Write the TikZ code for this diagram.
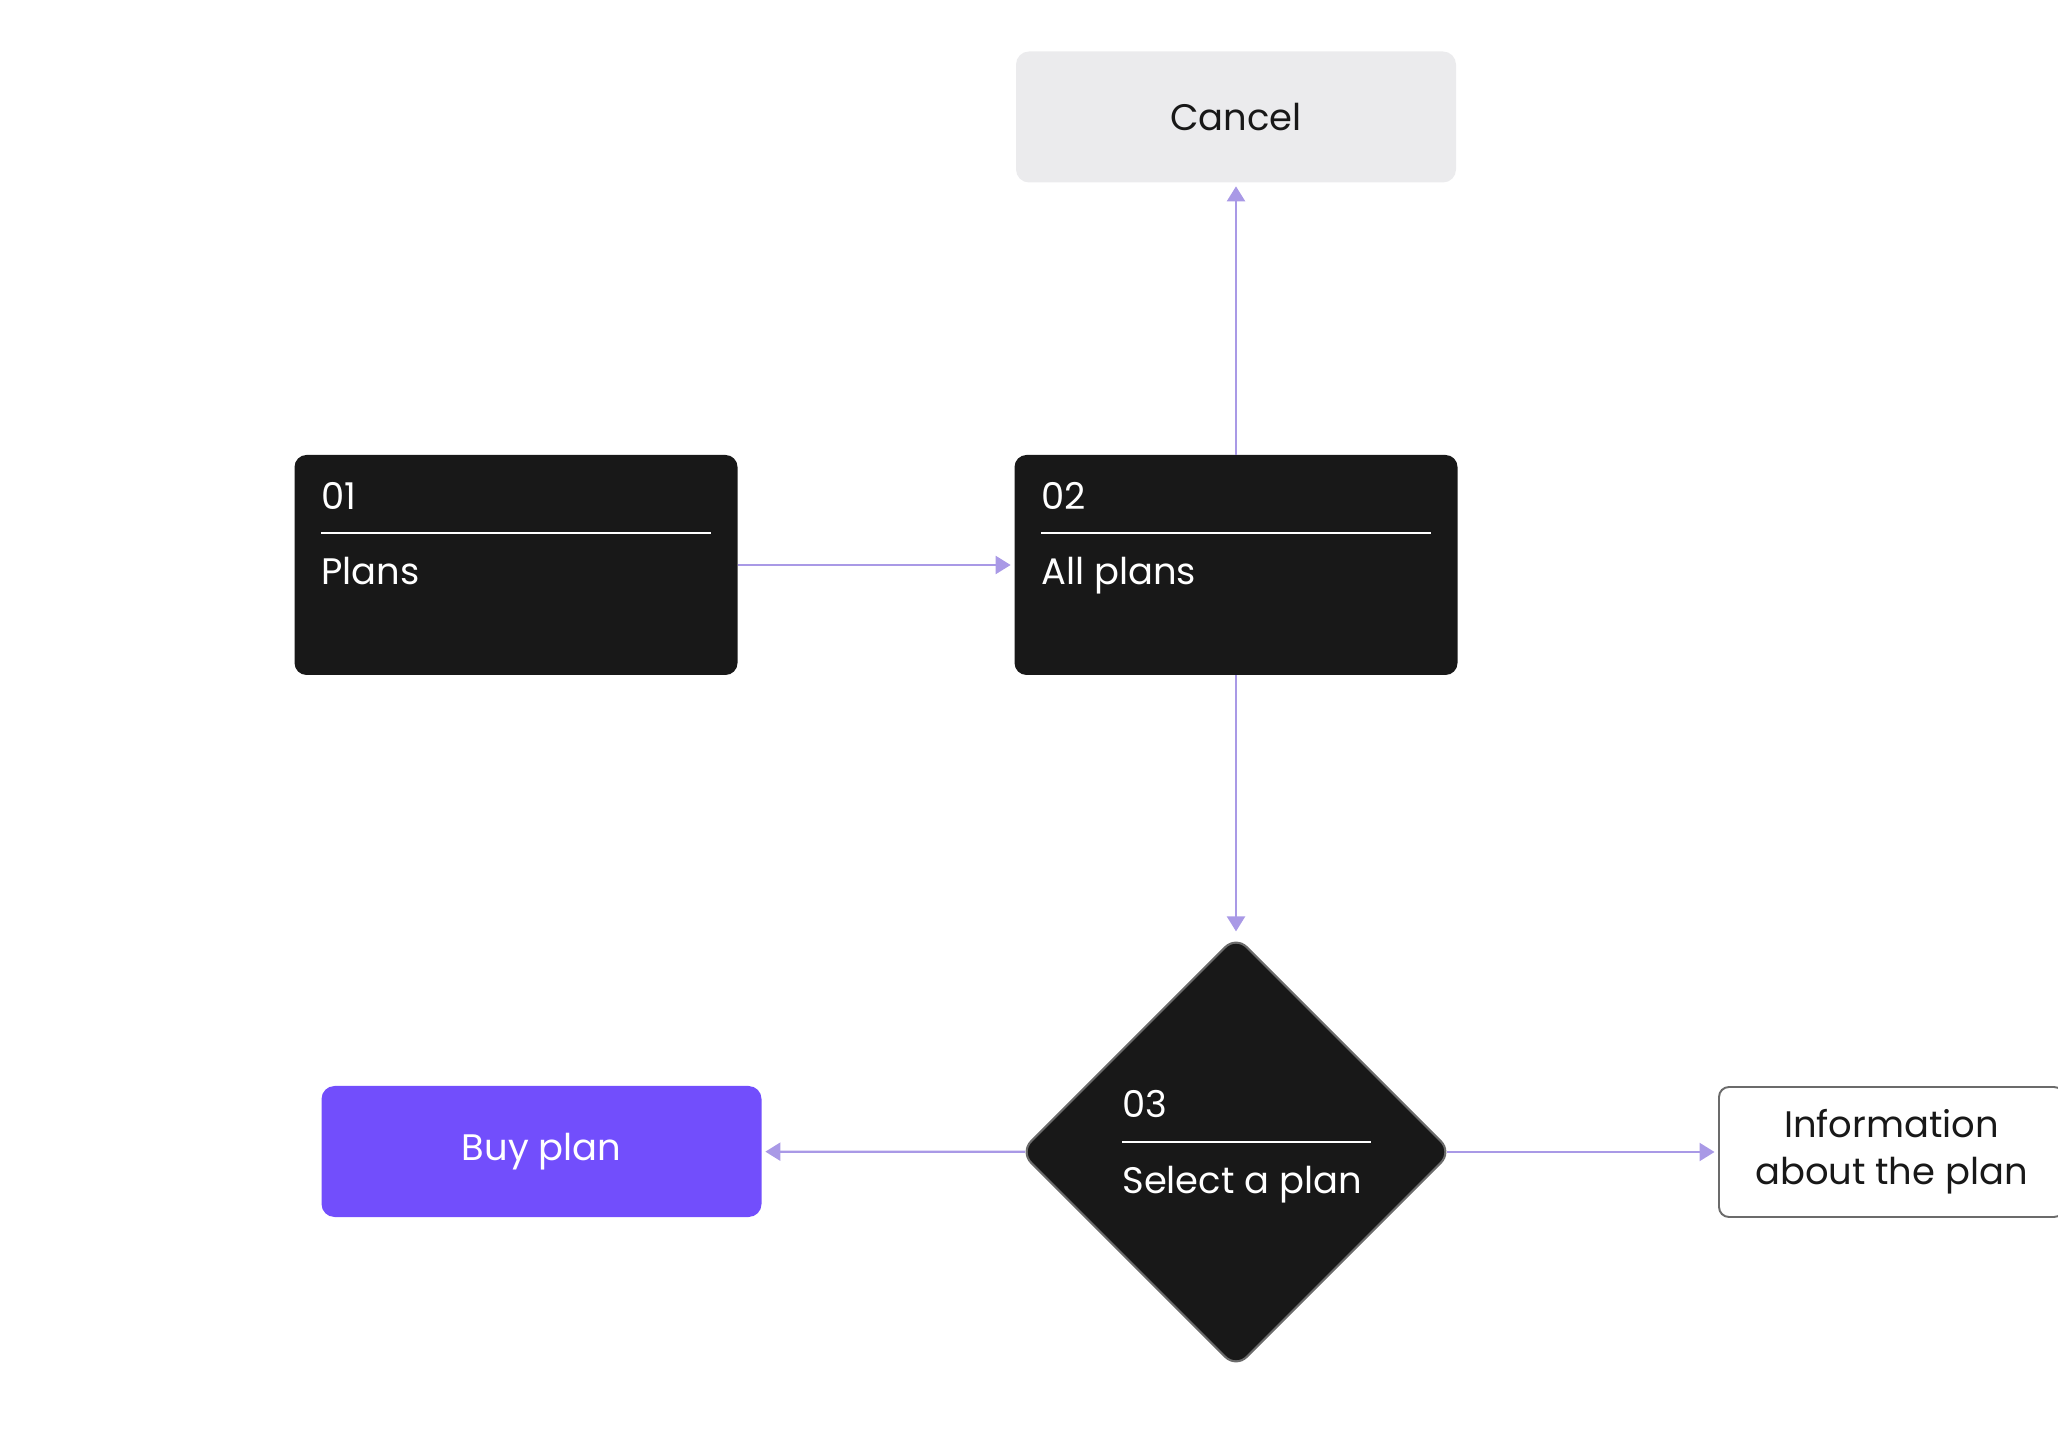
\documentclass[tikz,border=0pt]{standalone}
\usepackage{fontspec}
\setmainfont{Poppins}
\usetikzlibrary{arrows.meta,shapes.geometric}
\definecolor{ink}{HTML}{181818}
\definecolor{mist}{HTML}{EBEBED}
\definecolor{violet}{HTML}{724EFC}
\definecolor{lilac}{HTML}{A999E6}
\definecolor{rim}{HTML}{6B6B6B}
\begin{document}
\begin{tikzpicture}[
    card/.style={fill=ink,rounded corners=0.24cm,minimum width=8.86cm,minimum height=4.4cm,inner sep=0pt},
    pill/.style={rounded corners=0.26cm,minimum width=8.8cm,minimum height=2.62cm,inner sep=0pt,font=\fontsize{21}{25}\selectfont},
    word/.style={text=white,anchor=base west,inner sep=0pt,font=\fontsize{21}{25}\selectfont},
    link/.style={draw=lilac,line width=1.3pt,-{Triangle[length=0.3cm,width=0.36cm]},shorten >=2pt}
  ]
  \useasboundingbox (0,0) rectangle (41.16,28.8);
  \clip (0,0) rectangle (41.16,28.8);
  \node[pill,fill=mist,text=ink] (cancel) at (24.72,26.46) {Cancel};
  \node[card] (plans) at (10.32,17.5) {};
  \node[card] (all) at (24.72,17.5) {};
  \node[diamond,fill=ink,draw=rim,line width=1.2pt,rounded corners=0.3cm,
        minimum width=8.64cm,minimum height=8.64cm,inner sep=0pt] (pick) at (24.72,5.76) {};
  \node[pill,fill=violet,text=white] (buy) at (10.83,5.77) {Buy plan};
  \node[pill,draw=rim,line width=1.1pt,rounded corners=0.2cm,minimum width=6.9cm,minimum height=2.6cm,
        align=center,text=ink,font=\fontsize{21}{26.7}\selectfont] (info) at (37.83,5.76) {Information\\about the plan};

  \node[word] (n1) at (6.42,18.6) {01};
  \draw[white,line width=1.2pt] (6.42,18.14) -- (14.22,18.14);
  \node[word] (t1) at (6.42,17.1) {Plans};
  \node[word] (n2) at (20.82,18.6) {02};
  \draw[white,line width=1.2pt] (20.82,18.14) -- (28.62,18.14);
  \node[word] (t2) at (20.82,17.1) {All plans};
  \node[word] (n3) at (22.44,6.44) {03};
  \draw[white,line width=1.2pt] (22.44,5.96) -- (27.42,5.96);
  \node[word] (t3) at (22.44,4.94) {Select a plan};

  \draw[link] (plans) -- (all);
  \draw[link] (all) -- (cancel);
  \draw[link] (all) -- (pick);
  \draw[link,shorten <=-0.12cm] (pick) -- (buy);
  \draw[link,shorten <=-0.12cm] (pick) -- (info);
\end{tikzpicture}
\end{document}
